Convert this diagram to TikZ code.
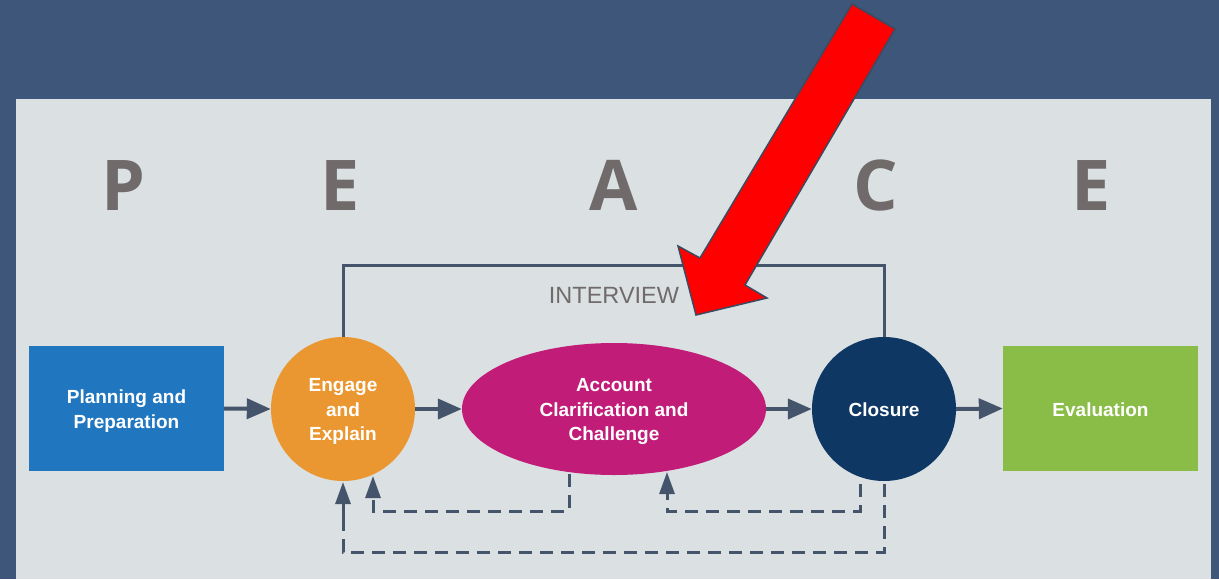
\documentclass[tikz,border=0pt]{standalone}
\usepackage{fontspec}
\setmainfont{Liberation Sans}
\newfontfamily\peacefont{Open Sans}
\usetikzlibrary{shapes.geometric,arrows.meta}
\definecolor{bgblue}{HTML}{3D5679}
\definecolor{panel}{HTML}{DBE0E3}
\definecolor{lettergray}{HTML}{706B6A}
\definecolor{conn}{HTML}{44546A}
\definecolor{planblue}{HTML}{2077C0}
\definecolor{engorange}{HTML}{EB9731}
\definecolor{accmag}{HTML}{C11D78}
\definecolor{closnavy}{HTML}{0E3764}
\definecolor{evalgreen}{HTML}{8ABD48}
\definecolor{bigred}{HTML}{FF0000}
\definecolor{redline}{HTML}{3C4A60}
\tikzset{
  letter/.style={font=\peacefont\fontsize{70}{70}\selectfont\bfseries, text=lettergray, anchor=base},
  boxnode/.style={draw=none, minimum width=195pt, minimum height=125pt, inner sep=0pt, text=white, align=center,
     font=\fontsize{19}{25}\selectfont\bfseries},
  circnode/.style={circle, minimum size=144pt, inner sep=0pt, text=white, align=center,
     font=\fontsize{19}{24.5}\selectfont\bfseries},
  label/.style={text=white, align=center, font=\fontsize{19}{24.5}\selectfont\bfseries},
  flow/.style={conn, line width=4pt, -{Triangle[length=24pt,width=20pt]}},
  fb/.style={conn, line width=3pt, dash pattern=on 13pt off 8pt},
  fbhead/.style={conn, line width=3pt, -{Triangle[length=22pt,width=15pt]}},
  frame/.style={conn, line width=3pt}
}
\begin{document}
\begin{tikzpicture}[x=1pt,y=-1pt]
\useasboundingbox (0,0) rectangle (1219,579);
\fill[bgblue] (0,0) rectangle (1219,579);
\fill[panel] (16,99) rectangle (1211,579);

% PEACE letters
\node[letter] (lP) at (123,210) {P};
\node[letter] (lE1) at (340,210) {E};
\node[letter] (lA) at (614,210) {A};
\node[letter] (lC) at (876,210) {C};
\node[letter] (lE2) at (1091,210) {E};

% nodes
\node[boxnode, fill=planblue] (plan) at (126.5,408.5) {};
\node[label] (planT) at (126.5,411) {Planning and\\Preparation};
\node[circnode, fill=engorange] (eng) at (343,409) {};
\node[label] (engT) at (343,411.5) {Engage\\and\\Explain};
\node[ellipse, fill=accmag, minimum width=304pt, minimum height=132pt, inner sep=0pt] (acc) at (614,409) {};
\node[label] (accT) at (614,411.5) {Account\\Clarification and\\Challenge};
\node[circnode, fill=closnavy] (clo) at (884,409) {};
\node[label] (cloT) at (884,410) {Closure};
\node[boxnode, fill=evalgreen] (eval) at (1100.5,408.5) {};
\node[label] (evalT) at (1100.5,410) {Evaluation};

% main flow
\draw[flow] (plan.east) -- (eng.west);
\draw[flow] (eng.east) -- (acc.west);
\draw[flow] (acc.east) -- (clo.west);
\draw[flow] (clo.east) -- (eval.west);

% interview frame
\coordinate (fl) at (343,265);
\coordinate (fr) at (884,265);
\draw[frame] (eng.north) -- (fl) -- (fr) -- (clo.north);
\node[text=lettergray, font=\fontsize{23.5}{23.5}\selectfont, anchor=base] (intv) at (614,303) {INTERVIEW};

% feedback loops
\coordinate (a1) at (569,474);
\coordinate (a2) at (569,511);
\coordinate (a3) at (373,511);
\coordinate (a4) at (373,497);
\coordinate (a5) at (373,476);
\draw[fb] (a1) -- (a2) -- (a3) -- (a4);
\draw[fbhead] (a4) -- (a5);

\coordinate (b1) at (860,484);
\coordinate (b2) at (860,511);
\coordinate (b3) at (667,511);
\coordinate (b4) at (667,495);
\coordinate (b5) at (667,472);
\draw[fb] (b1) -- (b2) -- (b3) -- (b4);
\draw[fbhead] (b4) -- (b5);

\coordinate (c1) at (884,484);
\coordinate (c2) at (884,552);
\coordinate (c3) at (343,552);
\coordinate (c4) at (343,530);
\coordinate (c5) at (343,482);
\draw[fb] (c1) -- (c2) -- (c3) -- (c4);
\draw[fbhead] (c4) -- (c5);

% big red arrow
\filldraw[fill=bigred, draw=redline, line width=1.5pt, line join=miter]
  (852,4) -- (895,29) -- (745,285) -- (767,298) -- (696,315) -- (678,246) -- (700,258) -- cycle;
\end{tikzpicture}
\end{document}
